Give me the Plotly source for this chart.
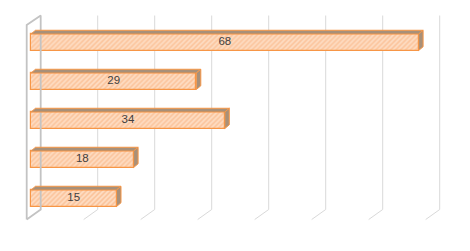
import plotly.graph_objects as go

# ---- data ----
categories = ["A", "B", "C", "D", "E"]
values = [68, 29, 34, 18, 15]
axis_ticks = [0, 10, 20, 30, 40, 50, 60, 70]

# ---- geometry (pixel scale helpers) ----
W, H = 470, 251
PX_PER_UNIT_X = 5.7        # pixels per value unit
PX_PER_ROW = 39.0          # pixels per category row
X0_PX = 31.0               # pixel of value 0 on bar front plane
Y0_PX = 42.3               # pixel of first bar centre

def ux(px):  # pixel offset -> x units
    return px / PX_PER_UNIT_X

def uy(px):  # pixel offset -> row units
    return px / PX_PER_ROW

xr = [-X0_PX / PX_PER_UNIT_X, (W - X0_PX) / PX_PER_UNIT_X]
yr = [(H - Y0_PX) / PX_PER_ROW, -Y0_PX / PX_PER_ROW]

BAR_W = uy(16.5)
DDX, DDY = ux(4.5), uy(3.8)          # bar depth offset
BACK_DX = ux(9.7)                     # back wall x offset from bar plane
FRONT_DX = ux(-4.3)                   # front floor edge x offset
Y_TOP = uy(15.5 - Y0_PX)
Y_BACK_BOT = uy(209.5 - Y0_PX)
Y_FRONT_BOT = uy(219.5 - Y0_PX)
Y_FRONT_TOP = uy(25.0 - Y0_PX)

ORANGE = "#f79646"
FACE = "#a89079"
GRID = "#d9d9d9"

fig = go.Figure()

shapes = []
# back-wall gridlines and floor diagonals
for t in axis_ticks[1:]:
    xb = t + BACK_DX
    xf = t + FRONT_DX
    shapes.append(dict(type="line", xref="x", yref="y", x0=xb, x1=xb, y0=Y_TOP, y1=Y_BACK_BOT,
                       line=dict(color=GRID, width=1), layer="below"))
    shapes.append(dict(type="line", xref="x", yref="y", x0=xb, x1=xf, y0=Y_BACK_BOT, y1=Y_FRONT_BOT,
                       line=dict(color=GRID, width=1), layer="below"))
# left wall
x_b0 = axis_ticks[0] + BACK_DX
x_f0 = axis_ticks[0] + FRONT_DX
wall = [(x_f0, Y_FRONT_BOT), (x_f0, Y_FRONT_TOP), (x_b0, Y_TOP), (x_b0, Y_BACK_BOT), (x_f0, Y_FRONT_BOT)]
fig.add_trace(go.Scatter(x=[p[0] for p in wall], y=[p[1] for p in wall], mode="lines",
                         line=dict(color="#c3c3c3", width=1.8), hoverinfo="skip", showlegend=False))

ypos = list(range(len(values)))

# front faces
fig.add_trace(go.Bar(
    x=values, y=ypos, orientation="h", width=BAR_W, base=0,
    marker=dict(color="#fdd9bd",
                line=dict(color=ORANGE, width=1.2),
                pattern=dict(shape="/", fgcolor="#f9aa72", bgcolor="#fddcc2", size=3.5, solidity=0.45)),
    textposition="none",
    showlegend=False, hoverinfo="skip"))

# top and side faces
for v, i in zip(values, ypos):
    yt = i - BAR_W / 2
    yb = i + BAR_W / 2
    top = [(0, yt), (v, yt), (v + DDX, yt - DDY), (DDX, yt - DDY), (0, yt)]
    side = [(v, yt), (v + DDX, yt - DDY), (v + DDX, yb - DDY), (v, yb), (v, yt)]
    for poly in (top, side):
        fig.add_trace(go.Scatter(x=[p[0] for p in poly], y=[p[1] for p in poly], mode="lines",
                                 fill="toself", fillcolor=FACE,
                                 line=dict(color=ORANGE, width=1),
                                 hoverinfo="skip", showlegend=False))

# value labels centred on the bar fronts
fig.add_trace(go.Scatter(
    x=[v / 2 for v in values], y=ypos, mode="text",
    text=[str(v) for v in values],
    textfont=dict(color="#404040", size=11.5, family="Liberation Sans"),
    hoverinfo="skip", showlegend=False))

fig.update_layout(
    width=W, height=H, margin=dict(l=0, r=0, t=0, b=0),
    paper_bgcolor="white", plot_bgcolor="white",
    shapes=shapes, bargap=0,
    xaxis=dict(range=xr, showgrid=False, zeroline=False, showticklabels=False, fixedrange=True),
    yaxis=dict(range=yr, showgrid=False, zeroline=False, showticklabels=False, fixedrange=True),
)

fig.write_html("out.html")
